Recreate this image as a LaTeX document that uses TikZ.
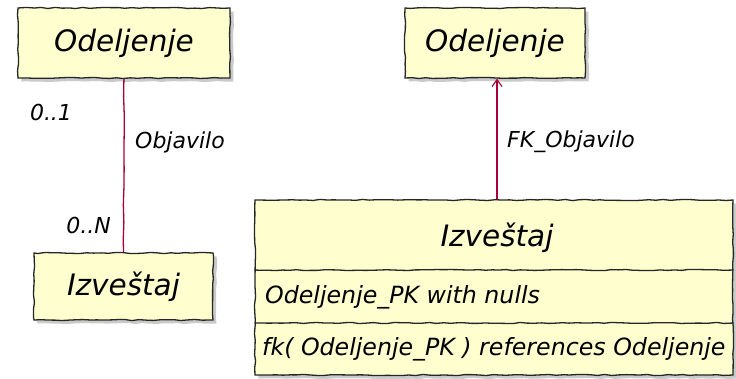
\documentclass[tikz,border=0pt]{standalone}
\usepackage{fontspec}
\setmainfont{DejaVu Sans}
\usetikzlibrary{decorations.pathmorphing,arrows.meta,shadows}
\definecolor{classfill}{HTML}{FEFECE}
\definecolor{relcolor}{HTML}{A80036}
\definecolor{ink}{HTML}{262626}

\tikzset{
  sketch/.style={decorate,decoration={random steps,segment length=7pt,amplitude=0.6pt}},
  wobble/.style={decorate,decoration={random steps,segment length=18pt,amplitude=0.5pt}},
  classbox/.style={sketch, draw=ink, line width=1.3pt, fill=classfill,
    drop shadow={shadow xshift=3.5pt, shadow yshift=-3.5pt, fill=black!35, opacity=0.6},
    inner sep=0pt, font=\itshape\fontsize{29.5}{34}\selectfont},
  divider/.style={sketch, draw=ink, line width=1.3pt},
  relation/.style={draw=relcolor, line width=1.3pt, line join=round},
  lbl/.style={inner sep=0pt, font=\itshape\fontsize{22}{26}\selectfont, text=black},
  rowtext/.style={inner sep=0pt, anchor=west, font=\itshape\fontsize{23.7}{28}\selectfont, text=black},
  titletext/.style={inner sep=0pt, font=\itshape\fontsize{29.5}{34}\selectfont, text=black}
}

\begin{document}
\begin{tikzpicture}[x=1pt,y=-1pt]
\pgfmathsetseed{11}
\useasboundingbox (0,0) rectangle (736,378);

% conceptual model (left)
\node[classbox, minimum width=212pt, minimum height=70pt] (dept) at (124,43) {Odeljenje};
\node[classbox, minimum width=179pt, minimum height=67pt] (rep) at (123.5,286.5) {Izveštaj};
\draw[relation, wobble] (dept) -- (rep);
\node[lbl] (mult1) at (51,112) {0..1};
\node[lbl, anchor=west] (relname) at (135,142) {Objavilo};
\node[lbl, anchor=east] (multN) at (111,225) {0..N};

% relational model (right)
\node[classbox, minimum width=180pt, minimum height=70pt] (deptT) at (495,43) {Odeljenje};
\node[classbox, minimum width=478pt, minimum height=175pt] (repT) at (494,287.5) {};
\coordinate (d1) at (0,270);
\coordinate (d2) at (0,323);
\draw[divider] (repT.west |- d1) -- (repT.east |- d1);
\draw[divider] (repT.west |- d2) -- (repT.east |- d2);
\node[titletext] (repTitle) at (497,238) {Izveštaj};
\node[rowtext] (row1) at (265,297) {Odeljenje\_PK with nulls};
\node[rowtext] (row2) at (262,349) {fk( Odeljenje\_PK ) references Odeljenje};

\draw[relation, -{Straight Barb[length=7pt,width=10pt,line width=1.1pt]}] (repT.north -| deptT.south) ++(2,0) coordinate (fkfrom) -- (fkfrom |- deptT.south);
\node[lbl, anchor=west] (fkname) at (507,142) {FK\_Objavilo};
\end{tikzpicture}
\end{document}
